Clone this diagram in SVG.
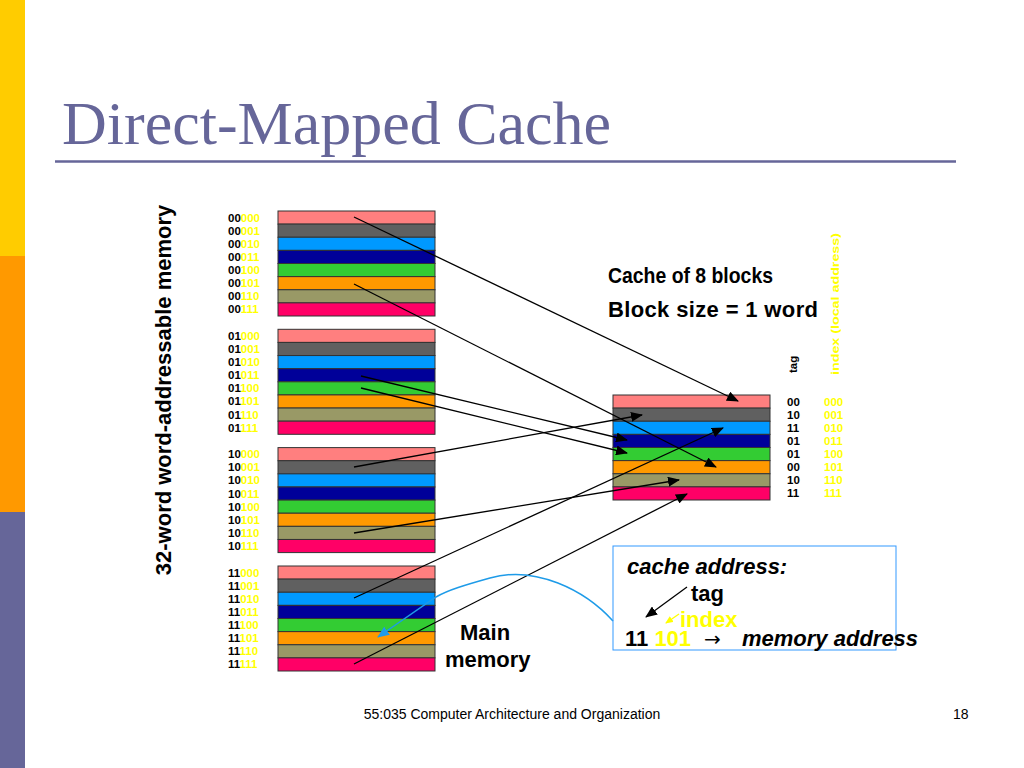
<svg xmlns="http://www.w3.org/2000/svg" width="1024" height="768" viewBox="0 0 1024 768">
<defs>
<style>
.lbl{font-family:"Liberation Sans",Arial,sans-serif;font-weight:bold;font-size:11.5px;fill:#000}
.big{font-family:"Liberation Sans",Arial,sans-serif;font-weight:bold;font-size:22px;fill:#000}
.bi{font-style:italic}
.y,.big.y,.lbl.y,.lbl .y{fill:#FFFF00}
.blk{stroke:#333;stroke-width:1}
.c0{fill:#FF7F7F}.c1{fill:#606060}.c2{fill:#0099FF}.c3{fill:#000099}
.c4{fill:#33CC33}.c5{fill:#FF9900}.c6{fill:#999966}.c7{fill:#FF0066}
.arr{stroke:#000;stroke-width:1.3;fill:none;marker-end:url(#ah)}
</style>
<marker id="ah" markerWidth="12" markerHeight="10" refX="11" refY="5" orient="auto" markerUnits="userSpaceOnUse">
<path d="M0,0 L12,5 L0,10 Z" fill="#000"/>
</marker>
<marker id="ahb" markerWidth="12" markerHeight="10" refX="11" refY="5" orient="auto" markerUnits="userSpaceOnUse">
<path d="M0,0 L12,5 L0,10 Z" fill="#1E9BE8"/>
</marker>
<marker id="ahy" markerWidth="8" markerHeight="7" refX="7" refY="3.5" orient="auto" markerUnits="userSpaceOnUse">
<path d="M0,0 L8,3.5 L0,7 Z" fill="#FFFF00"/>
</marker>
<g id="blockrows">
<rect class="blk c0" x="0" y="0" width="157" height="13.125"/>
<rect class="blk c1" x="0" y="13.125" width="157" height="13.125"/>
<rect class="blk c2" x="0" y="26.25" width="157" height="13.125"/>
<rect class="blk c3" x="0" y="39.375" width="157" height="13.125"/>
<rect class="blk c4" x="0" y="52.5" width="157" height="13.125"/>
<rect class="blk c5" x="0" y="65.625" width="157" height="13.125"/>
<rect class="blk c6" x="0" y="78.75" width="157" height="13.125"/>
<rect class="blk c7" x="0" y="91.875" width="157" height="13.125"/>
</g>
</defs>
<rect width="1024" height="768" fill="#fff"/>
<g id="sidebar">
<rect x="0" y="0" width="25" height="256" fill="#FFCC00"/>
<rect x="0" y="256" width="25" height="256" fill="#FF9900"/>
<rect x="0" y="512" width="25" height="256" fill="#666699"/>
</g>
<g id="title">
<text x="62" y="144" font-family="'Liberation Serif','Times New Roman',serif" font-size="62" fill="#666699">Direct-Mapped Cache</text>
<line x1="55" y1="161.5" x2="956" y2="161.5" stroke="#666699" stroke-width="2.5"/>
</g>
<g id="memlabel">
<text class="big" transform="translate(171,390) rotate(-90)" text-anchor="middle" font-size="23">32-word word-addressable memory</text>
</g>
<g id="mem00">
<use href="#blockrows" x="278" y="211"/>
<g class="lbl">
<text x="228" y="221.5">00<tspan class="y">000</tspan></text>
<text x="228" y="234.6">00<tspan class="y">001</tspan></text>
<text x="228" y="247.8">00<tspan class="y">010</tspan></text>
<text x="228" y="260.9">00<tspan class="y">011</tspan></text>
<text x="228" y="274">00<tspan class="y">100</tspan></text>
<text x="228" y="287.1">00<tspan class="y">101</tspan></text>
<text x="228" y="300.3">00<tspan class="y">110</tspan></text>
<text x="228" y="313.4">00<tspan class="y">111</tspan></text>
</g>
</g>
<g id="mem01">
<use href="#blockrows" x="278" y="329.3"/>
<g class="lbl">
<text x="228" y="339.8">01<tspan class="y">000</tspan></text>
<text x="228" y="352.9">01<tspan class="y">001</tspan></text>
<text x="228" y="366.1">01<tspan class="y">010</tspan></text>
<text x="228" y="379.2">01<tspan class="y">011</tspan></text>
<text x="228" y="392.3">01<tspan class="y">100</tspan></text>
<text x="228" y="405.4">01<tspan class="y">101</tspan></text>
<text x="228" y="418.6">01<tspan class="y">110</tspan></text>
<text x="228" y="431.7">01<tspan class="y">111</tspan></text>
</g>
</g>
<g id="mem10">
<use href="#blockrows" x="278" y="447.6"/>
<g class="lbl">
<text x="228" y="458.1">10<tspan class="y">000</tspan></text>
<text x="228" y="471.2">10<tspan class="y">001</tspan></text>
<text x="228" y="484.4">10<tspan class="y">010</tspan></text>
<text x="228" y="497.5">10<tspan class="y">011</tspan></text>
<text x="228" y="510.6">10<tspan class="y">100</tspan></text>
<text x="228" y="523.7">10<tspan class="y">101</tspan></text>
<text x="228" y="536.9">10<tspan class="y">110</tspan></text>
<text x="228" y="550">10<tspan class="y">111</tspan></text>
</g>
</g>
<g id="mem11">
<use href="#blockrows" x="278" y="566"/>
<g class="lbl">
<text x="228" y="576.5">11<tspan class="y">000</tspan></text>
<text x="228" y="589.6">11<tspan class="y">001</tspan></text>
<text x="228" y="602.8">11<tspan class="y">010</tspan></text>
<text x="228" y="615.9">11<tspan class="y">011</tspan></text>
<text x="228" y="629">11<tspan class="y">100</tspan></text>
<text x="228" y="642.1">11<tspan class="y">101</tspan></text>
<text x="228" y="655.3">11<tspan class="y">110</tspan></text>
<text x="228" y="668.4">11<tspan class="y">111</tspan></text>
</g>
</g>
<g id="mainmem">
<text class="big" x="460" y="640">Main</text>
<text class="big" x="445" y="667">memory</text>
</g>
<g id="cache">
<use href="#blockrows" x="613" y="395"/>
<g class="lbl">
<text x="787" y="405.5">00</text><text x="824" y="405.5" class="y">000</text>
<text x="787" y="418.6">10</text><text x="824" y="418.6" class="y">001</text>
<text x="787" y="431.8">11</text><text x="824" y="431.8" class="y">010</text>
<text x="787" y="444.9">01</text><text x="824" y="444.9" class="y">011</text>
<text x="787" y="458">01</text><text x="824" y="458" class="y">100</text>
<text x="787" y="471.1">00</text><text x="824" y="471.1" class="y">101</text>
<text x="787" y="484.3">10</text><text x="824" y="484.3" class="y">110</text>
<text x="787" y="497.4">11</text><text x="824" y="497.4" class="y">111</text>
</g>
<text class="lbl" transform="translate(797,373) rotate(-90)" font-size="12.5">tag</text>
<text class="lbl y" transform="translate(839,375) rotate(-90)" font-size="14" font-weight="normal" textLength="142" lengthAdjust="spacingAndGlyphs">index (local address)</text>
</g>
<g id="cacheinfo">
<text class="big" x="608" y="283" font-size="20.5" textLength="165" lengthAdjust="spacingAndGlyphs">Cache of 8 blocks</text>
<text class="big" x="608" y="317" font-size="21" textLength="210">Block size = 1 word</text>
</g>
<g id="connectors">
<line class="arr" x1="354" y1="217" x2="738" y2="401"/>
<line class="arr" x1="354" y1="284" x2="716" y2="467"/>
<line class="arr" x1="361" y1="376" x2="627" y2="440"/>
<line class="arr" x1="361" y1="388" x2="627" y2="453"/>
<line class="arr" x1="354" y1="467" x2="642" y2="415"/>
<line class="arr" x1="354" y1="533" x2="679" y2="480"/>
<line class="arr" x1="354" y1="598" x2="723" y2="428"/>
<line class="arr" x1="354" y1="664" x2="687" y2="494"/>
<path d="M613,621 C585,590 535,565 490,578 C465,585 448,590 436,597 L378,637" fill="none" stroke="#1E9BE8" stroke-width="1.5" marker-end="url(#ahb)"/>
</g>
<g id="cacheaddr">
<rect x="613" y="546" width="283" height="104" fill="none" stroke="#3399FF" stroke-width="1"/>
<text class="big bi" x="627" y="574">cache address:</text>
<text class="big" x="691" y="601">tag</text>
<line x1="687" y1="587" x2="646" y2="617" stroke="#000" stroke-width="1.3" marker-end="url(#ah)"/>
<text class="big y" x="680" y="627" font-weight="normal">index</text>
<line x1="679" y1="614" x2="666" y2="623" stroke="#FFFF00" stroke-width="1.3" marker-end="url(#ahy)"/>
<text class="big" x="625" y="646">11 <tspan class="y">101</tspan></text>
<text x="704" y="646" font-family="'DejaVu Sans',sans-serif" font-size="20" fill="#000">→</text>
<text class="big bi" x="742" y="646">memory address</text>
</g>
<g id="footer">
<text x="512" y="719" text-anchor="middle" font-family="'Liberation Sans',Arial,sans-serif" font-size="14" fill="#000">55:035 Computer Architecture and Organization</text>
<text x="953" y="719" font-family="'Liberation Sans',Arial,sans-serif" font-size="14" fill="#000">18</text>
</g>
</svg>
